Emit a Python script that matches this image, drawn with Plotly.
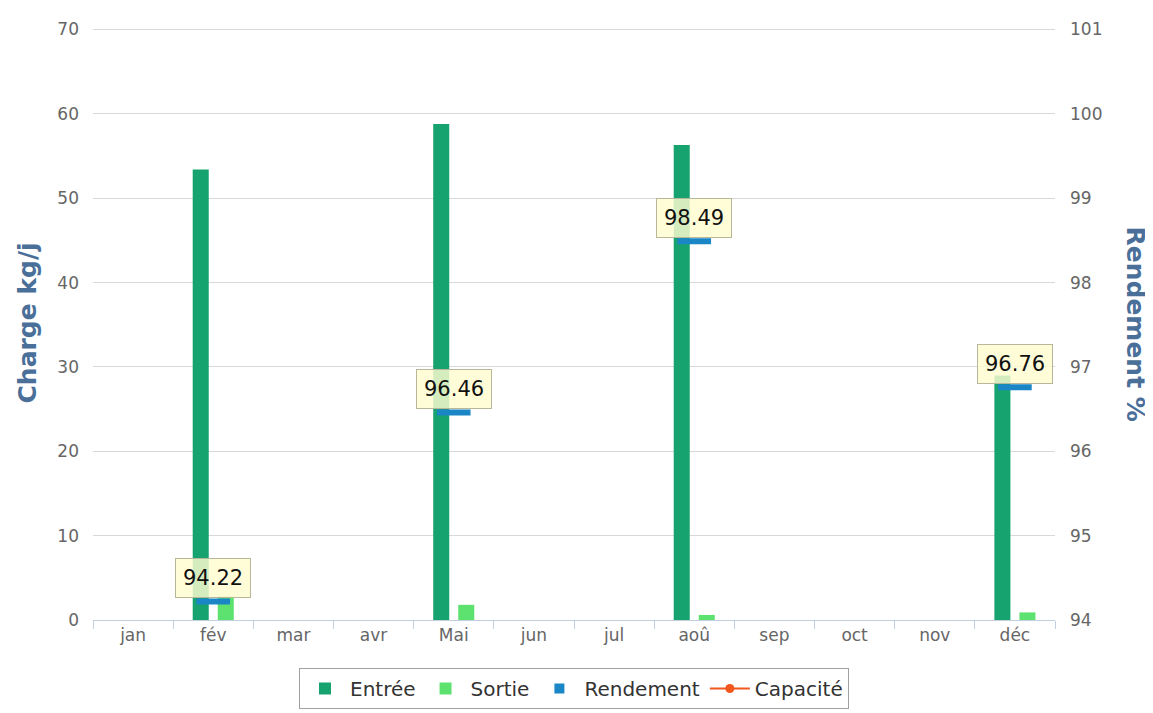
import plotly.graph_objects as go

mois = ["jan", "fév", "mar", "avr", "Mai", "jun", "jul", "aoû", "sep", "oct", "nov", "déc"]
entree = [None, 53.4, None, None, 58.8, None, None, 56.3, None, None, None, 29.0]
sortie = [None, 2.8, None, None, 1.8, None, None, 0.6, None, None, None, 0.9]
rendement = [None, 94.22, None, None, 96.46, None, None, 98.49, None, None, None, 96.76]
capacite = [None] * 12

C_ENTREE = "#17a36f"
C_SORTIE = "#5ee26f"
C_REND = "#1b86c6"
C_CAP = "#f0561d"
C_TITLE = "#4a6f99"
FONT = "DejaVu Sans"

# page body has an 8px margin: canvas is offset by (8, 8)
W, H = 1145, 705
ML, MR, MT, MB = 85, 98, 19, 93
PW = W - ML - MR
PH = H - MT - MB

fig = go.Figure()
fig.add_trace(go.Bar(x=mois, y=entree, name="Entrée", marker=dict(color=C_ENTREE, line_width=0)))
fig.add_trace(go.Bar(x=mois, y=sortie, name="Sortie", marker=dict(color=C_SORTIE, line_width=0)))
fig.add_trace(go.Scatter(x=mois, y=rendement, yaxis="y2", mode="markers", showlegend=False,
                         legendgroup="rend",
                         marker=dict(symbol="line-ew", size=24, color=C_REND,
                                     line=dict(color=C_REND, width=6))))
fig.add_trace(go.Scatter(x=[None], y=[None], yaxis="y2", mode="markers", name="Rendement",
                         legendgroup="rend",
                         marker=dict(symbol="square", size=10, color=C_REND)))
fig.add_trace(go.Scatter(x=mois, y=capacite, yaxis="y2", mode="lines+markers", name="Capacité",
                         line=dict(color=C_CAP, width=2),
                         marker=dict(symbol="circle", size=9, color=C_CAP)))

annotations = []
for m, r in zip(mois, rendement):
    if r is None:
        continue
    annotations.append(dict(
        x=m, y=r, xref="x", yref="y2", text=f"{r:.2f}", showarrow=False,
        yanchor="bottom", yshift=3,
        font=dict(family=FONT, size=21, color="#111111"),
        bgcolor="rgba(255,253,208,0.82)", bordercolor="#b9b79a", borderwidth=1, borderpad=7,
    ))

annotations.append(dict(
    x=(19 - ML) / PW, y=0.5, xref="paper", yref="paper", text="<b>Charge kg/j</b>",
    textangle=-90, showarrow=False, xanchor="center", yanchor="middle",
    font=dict(family=FONT, size=25, color=C_TITLE),
))
annotations.append(dict(
    x=(1127 - ML) / PW, y=0.5, xref="paper", yref="paper", text="<b>Rendement %</b>",
    textangle=90, showarrow=False, xanchor="center", yanchor="middle",
    font=dict(family=FONT, size=25, color=C_TITLE),
))

fig.update_layout(
    width=W, height=H,
    margin=dict(l=ML, r=MR, t=MT, b=MB, autoexpand=False),
    paper_bgcolor="white", plot_bgcolor="white",
    barmode="group", bargap=0.375, bargroupgap=0.36,
    font=dict(family=FONT, size=17, color="#666666"),
    xaxis=dict(
        type="category", categoryorder="array", categoryarray=mois,
        showgrid=False, showline=True, linecolor="#c0d0e0", linewidth=1,
        ticks="outside", tickson="boundaries", ticklen=8, tickcolor="#c0d0e0",
        tickfont=dict(family=FONT, size=17, color="#666666"),
        range=[-0.5, 11.5], automargin=False,
    ),
    yaxis=dict(
        range=[0, 70.3], tickvals=[0, 10, 20, 30, 40, 50, 60, 70],
        showgrid=True, gridcolor="#d8d8d8", gridwidth=1,
        zeroline=False, showline=False, ticks="", ticklabelstandoff=13,
        tickfont=dict(family=FONT, size=17, color="#666666"), automargin=False,
    ),
    yaxis2=dict(
        overlaying="y", side="right", range=[94, 94 + 7 * 70.3 / 70],
        tickvals=[94, 95, 96, 97, 98, 99, 100, 101],
        showgrid=False, zeroline=False, showline=False, ticks="", ticklabelstandoff=14,
        tickfont=dict(family=FONT, size=17, color="#666666"), automargin=False,
    ),
    legend=dict(
        orientation="h", x=0.5, xanchor="center", y=-48 / PH, yanchor="top",
        bordercolor="#a0a0a0", borderwidth=1, bgcolor="white",
        font=dict(family=FONT, size=20, color="#333333"),
        itemwidth=40, traceorder="normal",
    ),
    annotations=annotations,
)

fig.write_html("out.html")
